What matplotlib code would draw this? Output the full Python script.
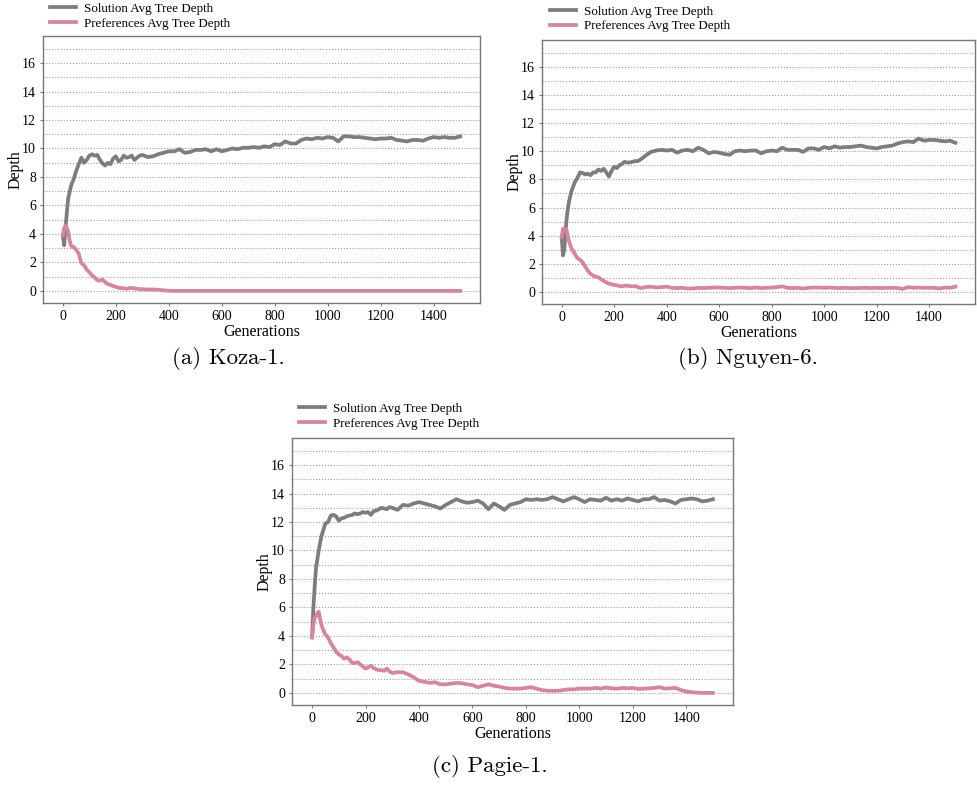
import matplotlib
matplotlib.use("Agg")
import matplotlib.pyplot as plt

plt.rcParams["font.family"] = ["Liberation Serif", "DejaVu Serif"]

# Sampled generations shared by every run
generations = [0, 5, 10, 15, 20, 25, 30, 35, 40, 50, 60, 70, 80, 90, 100, 110, 120,
               130, 140, 150, 160, 170, 180, 190, 200, 210, 220, 230, 240, 250, 260,
               270, 280, 290, 300] + list(range(320, 1501, 20))

# Koza-1
sol_koza = [3.9, 3.2, 4.4, 5.5, 6.5, 6.9, 7.3, 7.6, 7.8, 8.4, 8.9, 9.35, 9.0, 9.2, 9.5,
            9.6, 9.5, 9.55, 9.2, 8.95, 8.8, 9.0, 8.9, 9.3, 9.45, 9.1, 9.2, 9.5, 9.35,
            9.4, 9.5, 9.2, 9.35, 9.5, 9.55,
            9.4, 9.45, 9.6, 9.7, 9.8, 9.8, 9.95, 9.7, 9.75, 9.9, 9.9, 9.95, 9.8, 9.95,
            9.8, 9.9, 10.0, 9.95, 10.05, 10.05, 10.1, 10.05, 10.15, 10.1, 10.3, 10.25,
            10.5, 10.35, 10.35, 10.6, 10.7, 10.65, 10.75, 10.7, 10.8, 10.75, 10.5, 10.85,
            10.85, 10.8, 10.8, 10.75, 10.7, 10.65, 10.7, 10.7, 10.75, 10.6, 10.55, 10.5,
            10.6, 10.6, 10.55, 10.7, 10.8, 10.75, 10.8, 10.75, 10.75, 10.85]
pref_koza = [3.9, 4.4, 4.6, 4.4, 4.2, 3.6, 3.2, 3.1, 3.1, 2.9, 2.6, 1.95, 1.8, 1.5, 1.3,
             1.1, 0.95, 0.75, 0.72, 0.8, 0.6, 0.48, 0.42, 0.35, 0.28, 0.22, 0.2, 0.18,
             0.15, 0.2, 0.2, 0.18, 0.15, 0.12, 0.12,
             0.1, 0.1, 0.08, 0.04, 0.01] + [0.0] * 55

# Nguyen-6
sol_nguyen = [3.9, 2.6, 3.0, 4.4, 5.4, 6.1, 6.6, 7.0, 7.3, 7.8, 8.1, 8.5, 8.45, 8.35,
              8.4, 8.3, 8.5, 8.5, 8.7, 8.6, 8.75, 8.5, 8.2, 8.6, 8.9, 8.8, 9.0, 9.1,
              9.25, 9.2, 9.2, 9.25, 9.3, 9.3, 9.4,
              9.7, 9.95, 10.05, 10.1, 10.05, 10.1, 9.9, 10.05, 10.1, 10.0, 10.25, 10.1,
              9.85, 9.95, 9.9, 9.8, 9.75, 10.0, 10.05, 10.0, 10.05, 10.05, 9.85, 10.0,
              10.05, 10.0, 10.25, 10.1, 10.1, 10.1, 9.95, 10.2, 10.2, 10.1, 10.3, 10.2,
              10.35, 10.25, 10.3, 10.3, 10.35, 10.4, 10.3, 10.25, 10.2, 10.3, 10.35,
              10.4, 10.55, 10.65, 10.7, 10.65, 10.9, 10.75, 10.8, 10.8, 10.75, 10.7,
              10.75, 10.6]
pref_nguyen = [3.9, 4.5, 4.4, 4.5, 4.3, 3.8, 3.5, 3.2, 3.0, 2.7, 2.4, 2.3, 2.1, 1.8,
               1.5, 1.3, 1.15, 1.1, 1.05, 0.9, 0.8, 0.68, 0.6, 0.55, 0.5, 0.48, 0.42,
               0.4, 0.45, 0.45, 0.42, 0.4, 0.42, 0.35, 0.28,
               0.35, 0.38, 0.32, 0.35, 0.38, 0.3, 0.28, 0.3, 0.25, 0.25, 0.3, 0.28,
               0.3, 0.32, 0.32, 0.3, 0.28, 0.3, 0.32, 0.3, 0.28, 0.32, 0.28, 0.3, 0.32,
               0.35, 0.4, 0.3, 0.28, 0.3, 0.25, 0.3, 0.32, 0.32, 0.3, 0.32, 0.3, 0.28,
               0.3, 0.28, 0.28, 0.3, 0.3, 0.28, 0.3, 0.28, 0.3, 0.3, 0.28, 0.22, 0.35,
               0.3, 0.32, 0.3, 0.3, 0.3, 0.25, 0.32, 0.3, 0.38]

# Pagie-1
sol_pagie = [3.9, 6.0, 7.5, 8.8, 9.4, 10.0, 10.5, 11.0, 11.3, 11.9, 12.0, 12.45, 12.5,
             12.4, 12.1, 12.25, 12.3, 12.4, 12.45, 12.5, 12.6, 12.55, 12.6, 12.7,
             12.65, 12.7, 12.5, 12.75, 12.8, 12.9, 13.0, 12.95, 12.9, 13.05, 13.0,
             12.85, 13.2, 13.15, 13.3, 13.4, 13.3, 13.2, 13.1, 12.95, 13.2, 13.4, 13.6,
             13.45, 13.35, 13.4, 13.5, 13.3, 12.9, 13.3, 13.1, 12.85, 13.2, 13.3, 13.4,
             13.6, 13.55, 13.6, 13.55, 13.6, 13.75, 13.6, 13.45, 13.6, 13.75, 13.6,
             13.4, 13.6, 13.55, 13.5, 13.7, 13.5, 13.6, 13.5, 13.65, 13.55, 13.45, 13.6,
             13.6, 13.75, 13.5, 13.55, 13.45, 13.3, 13.55, 13.6, 13.65, 13.6, 13.45,
             13.5, 13.6]
pref_pagie = [3.9, 4.8, 5.3, 5.4, 5.6, 5.7, 5.2, 4.8, 4.5, 4.1, 3.9, 3.5, 3.2, 2.9, 2.7,
              2.6, 2.4, 2.5, 2.35, 2.1, 2.1, 2.15, 2.0, 1.85, 1.7, 1.8, 1.9, 1.75, 1.65,
              1.6, 1.6, 1.55, 1.7, 1.5, 1.4,
              1.45, 1.45, 1.3, 1.1, 0.85, 0.78, 0.7, 0.75, 0.6, 0.6, 0.65, 0.7, 0.68,
              0.6, 0.55, 0.4, 0.5, 0.6, 0.5, 0.45, 0.35, 0.3, 0.3, 0.3, 0.35, 0.4, 0.3,
              0.2, 0.15, 0.15, 0.15, 0.2, 0.25, 0.25, 0.3, 0.3, 0.3, 0.35, 0.3, 0.38,
              0.32, 0.3, 0.35, 0.32, 0.35, 0.28, 0.3, 0.32, 0.35, 0.4, 0.3, 0.32, 0.35,
              0.2, 0.1, 0.05, 0.02, 0.0, 0.0, 0.0]

series_labels = ["Solution Avg Tree Depth", "Preferences Avg Tree Depth"]
captions = ["(a) Koza-1.", "(b) Nguyen-6.", "(c) Pagie-1."]
y_ticks = [0, 2, 4, 6, 8, 10, 12, 14, 16]
x_ticks = [0, 200, 400, 600, 800, 1000, 1200, 1400]

SOL_COLOR = "#7d7d7d"
PREF_COLOR = "#d7849f"
SPINE_COLOR = "#777777"

W, H = 977, 785
fig = plt.figure(figsize=(W / 100, H / 100), dpi=100)


def px_rect(left, top, right, bottom):
    return [left / W, 1 - bottom / H, (right - left) / W, (bottom - top) / H]


panels = [
    dict(rect=px_rect(43, 36, 480, 303), sol=sol_koza, pref=pref_koza,
         leg=(47, 0), cap=(228, 358)),
    dict(rect=px_rect(542, 40, 975, 304), sol=sol_nguyen, pref=pref_nguyen,
         leg=(547, 3), cap=(748, 358)),
    dict(rect=px_rect(292, 438, 733, 705), sol=sol_pagie, pref=pref_pagie,
         leg=(296, 400), cap=(490, 767)),
]

for p, cap in zip(panels, captions):
    ax = fig.add_axes(p["rect"])
    l1, = ax.plot(generations, p["sol"], color=SOL_COLOR, lw=2.7,
                  solid_joinstyle="round", zorder=3)
    l2, = ax.plot(generations, p["pref"], color=PREF_COLOR, lw=2.7,
                  solid_joinstyle="round", zorder=3)
    ax.set_xlim(-75, 1575)
    ax.set_ylim(-0.85, 17.9)
    ax.set_xticks(x_ticks)
    ax.set_yticks(y_ticks)
    ax.set_yticks(range(0, 18), minor=True)
    ax.grid(True, axis="y", which="both", linestyle=":", color="#9a9a9a",
            linewidth=0.8)
    ax.tick_params(axis="both", which="major", labelsize=10, length=2,
                   color=SPINE_COLOR, pad=3)
    ax.tick_params(axis="y", which="minor", length=0)
    for s in ax.spines.values():
        s.set_color(SPINE_COLOR)
        s.set_linewidth(1.0)
    ax.set_xlabel("Generations", fontsize=11.5, labelpad=1)
    ax.set_ylabel("Depth", fontsize=11.5, labelpad=-1)
    lx, ly = p["leg"]
    fig.legend([l1, l2], series_labels, loc="upper left",
               bbox_to_anchor=(lx / W, 1 - ly / H), frameon=False, fontsize=9.4,
               handlelength=2.0, handletextpad=0.6, labelspacing=0.2,
               borderaxespad=0, borderpad=0.2)
    cx, cy = p["cap"]
    fig.text(cx / W, 1 - cy / H, cap, family="cmr10", fontsize=16.5,
             ha="center", va="center")

fig.savefig("out.png", dpi=100)
